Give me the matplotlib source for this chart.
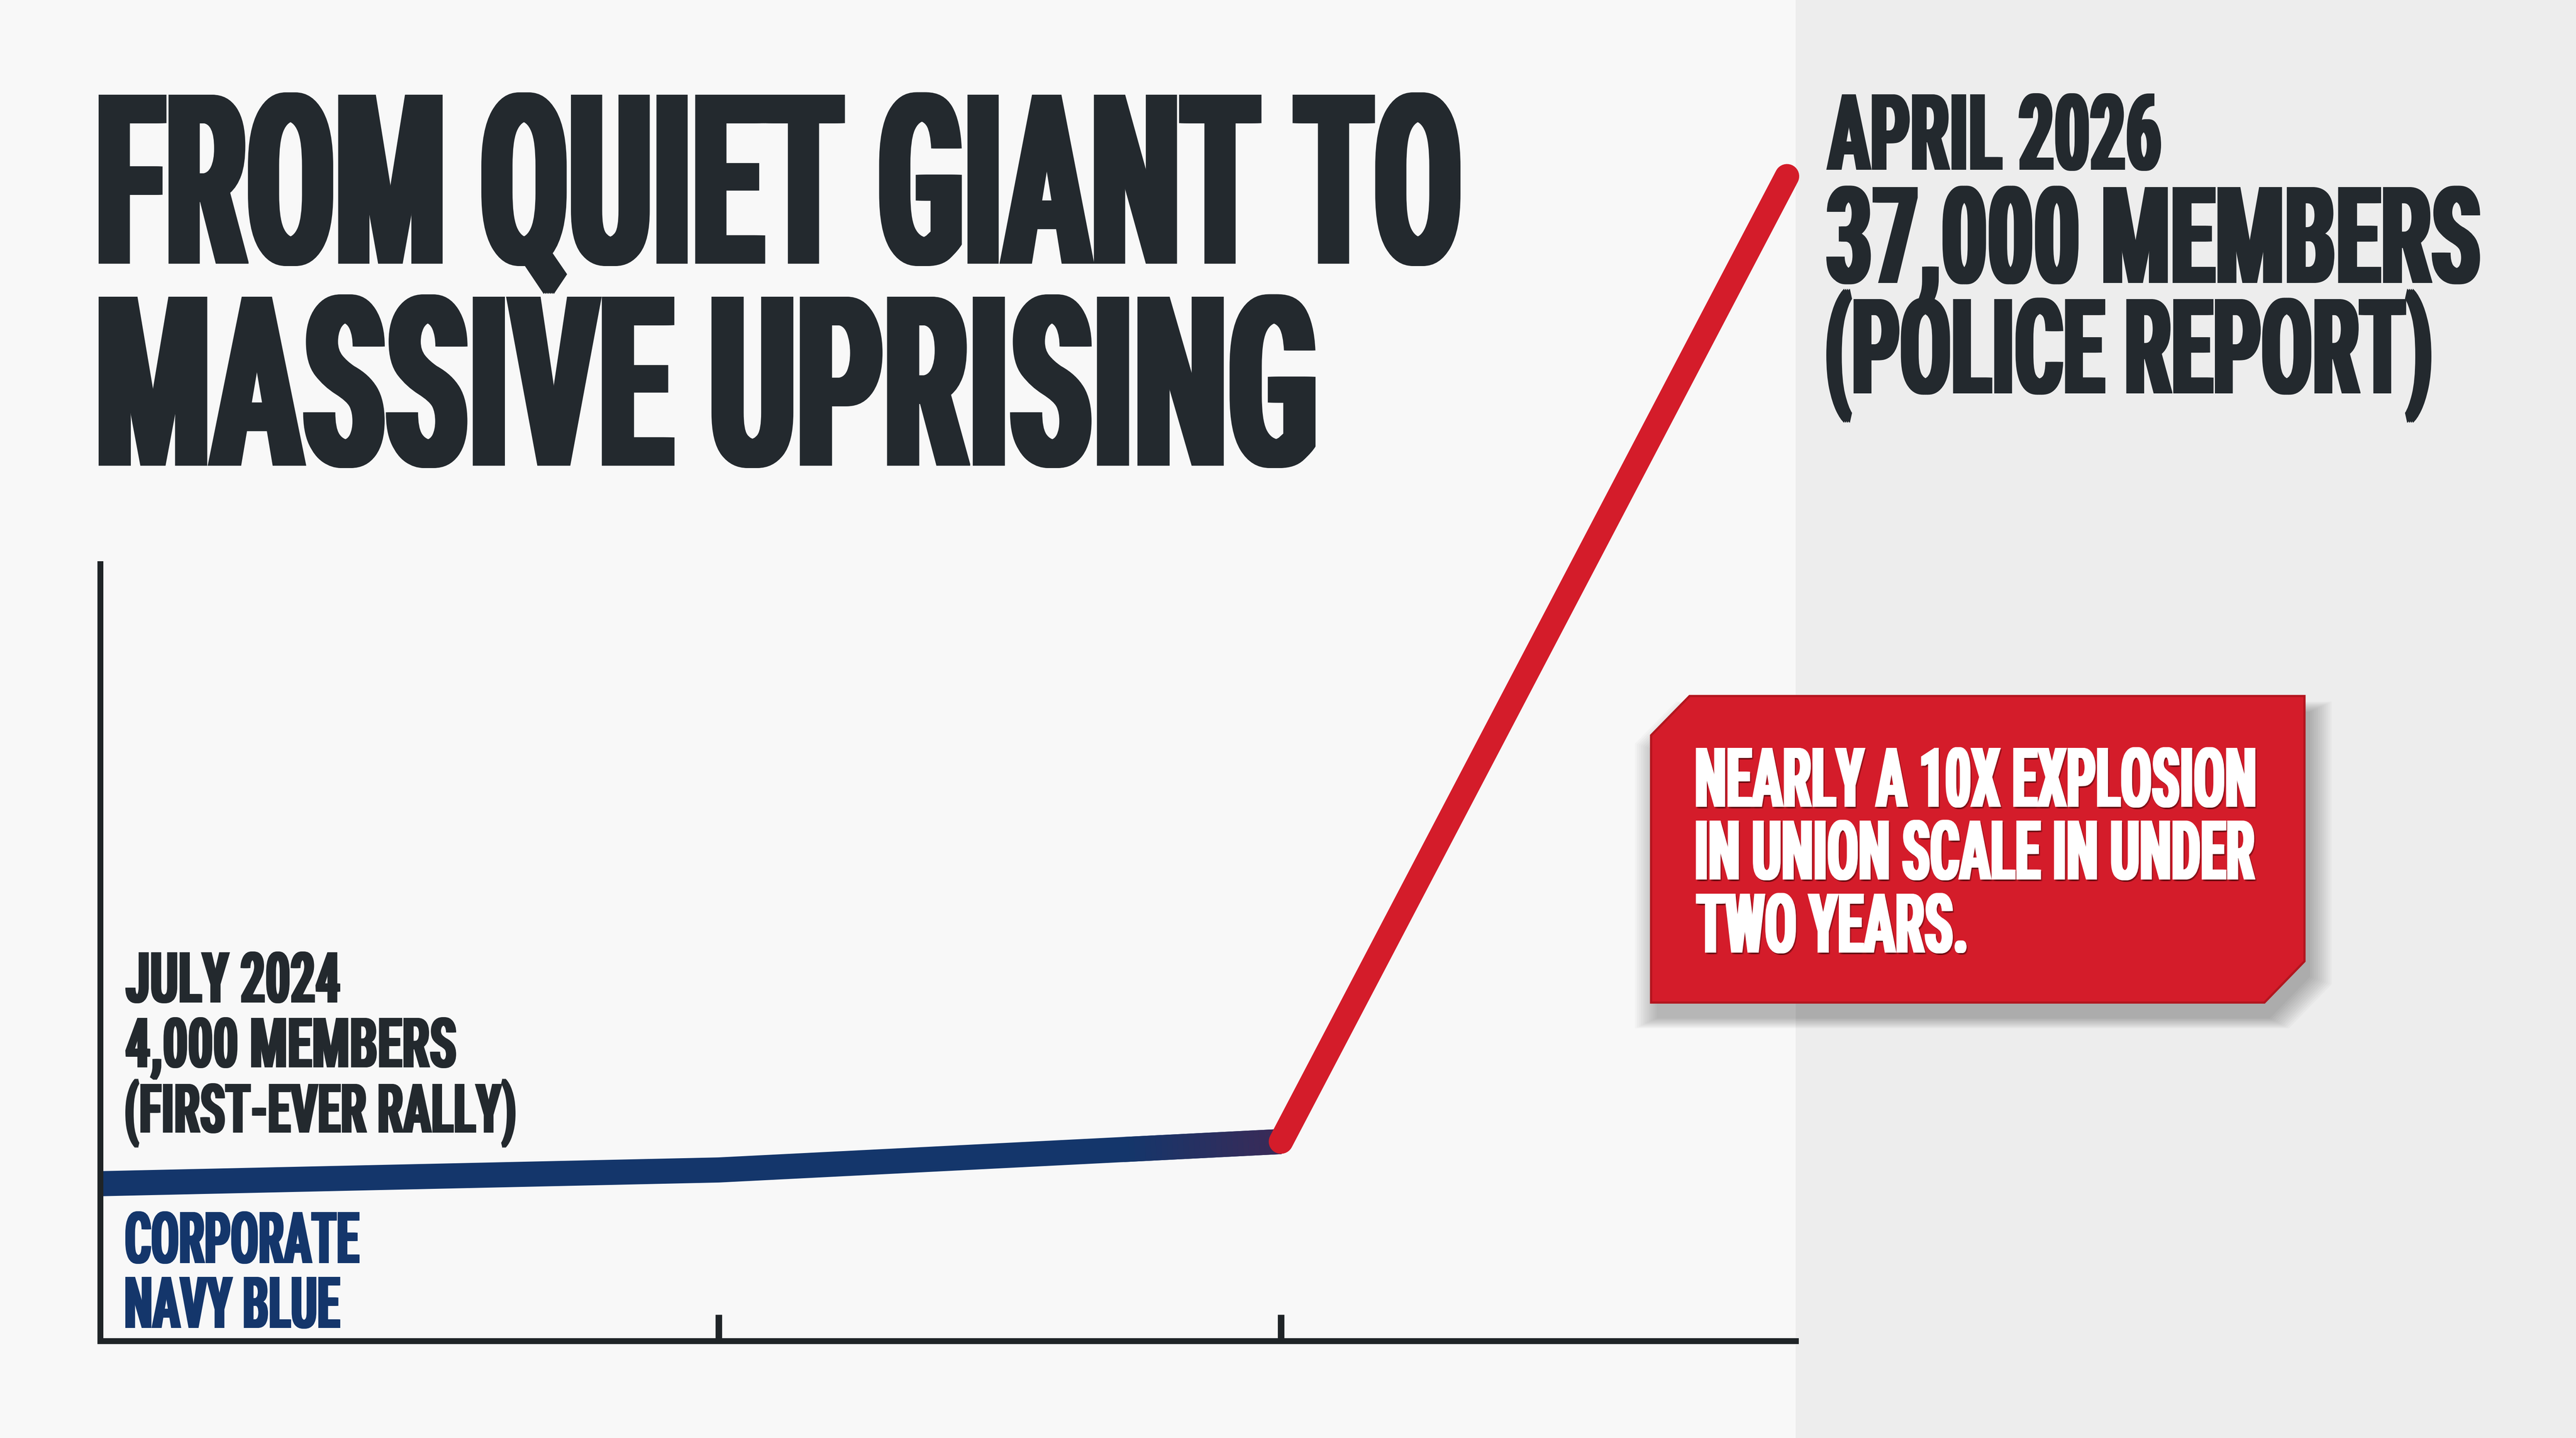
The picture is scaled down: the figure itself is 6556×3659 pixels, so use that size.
import numpy as np
import matplotlib
matplotlib.use("Agg")
import matplotlib.pyplot as plt
from matplotlib import font_manager as fm
from matplotlib.collections import LineCollection
from matplotlib.patches import Polygon, Rectangle
from matplotlib.patheffects import AbstractPathEffect
from matplotlib.transforms import Affine2D
from matplotlib.textpath import TextPath
from matplotlib.font_manager import FontProperties
from matplotlib.colors import to_rgb

# ---------------- data ----------------
months = [0.0, 7.7, 14.7, 21.0]          # months after July 2024
members = [4000, 4450, 5380, 37000]      # union members
tick_months = [7.7, 14.7]

title_lines = ["FROM QUIET GIANT TO", "MASSIVE UPRISING"]
start_lines = ["JULY 2024", "4,000 MEMBERS", "(FIRST-EVER RALLY)"]
legend_lines = ["CORPORATE", "NAVY BLUE"]
end_lines = ["APRIL 2026", "37,000 MEMBERS", "(POLICE REPORT)"]
callout_lines = ["NEARLY A 10X EXPLOSION", "IN UNION SCALE IN UNDER", "TWO YEARS."]

# ---------------- style ----------------
W, H, DPI = 6556, 3659, 400
BG = "#f8f8f8"
PANEL = "#ededed"
INK = "#23292e"
NAVY = "#14366b"
PURPLE = "#3b2a57"
RED = "#d41c2a"
AXC = "#1f2427"


def pick_font():
    candidates = [
        (dict(family="Roboto Condensed", weight="bold"), None),
        (dict(family="Liberation Sans Narrow", weight="bold"), None),
        (dict(family="DejaVu Sans", weight="bold", stretch="condensed"), "Condensed"),
        (dict(family="Roboto", weight="bold"), None),
    ]
    for kw, must in candidates:
        try:
            path = fm.findfont(FontProperties(**kw), fallback_to_default=False)
        except Exception:
            continue
        if must and must not in path:
            continue
        return FontProperties(**kw)
    return FontProperties(family="DejaVu Sans", weight="bold")


FP = pick_font()
CAPR = TextPath((0, 0), "H", size=100, prop=FP).get_extents().ymax / 100.0


class Tall(AbstractPathEffect):
    """Draw text glyphs stretched vertically (display-face look), slightly thickened."""

    def __init__(self, sy, smear=0.0, steps=6, shadow=None):
        super().__init__()
        self.sy, self.smear, self.steps, self.shadow = sy, smear, steps, shadow

    def _draw(self, renderer, gc, tpath, base, rgbFace, f):
        for k in range(self.steps + 1):
            dx = self.smear * f * k / self.steps
            renderer.draw_path(gc, tpath, base + Affine2D().translate(dx, 0), rgbFace)

    def draw_path(self, renderer, gc, tpath, affine, rgbFace=None):
        f = renderer.points_to_pixels(72.0) / DPI
        base = Affine2D().scale(1.0, self.sy) + affine
        if self.shadow is not None:
            dx, dy, col, alpha = self.shadow
            gc0 = renderer.new_gc()
            gc0.copy_properties(gc)
            gc0.set_alpha(alpha)
            gc0.set_linewidth(0)
            self._draw(renderer, gc0, tpath, base + Affine2D().translate(dx * f, dy * f),
                       to_rgb(col), f)
            gc0.restore()
        self._draw(renderer, gc, tpath, base, rgbFace, f)


fig = plt.figure(figsize=(W / DPI, H / DPI), dpi=DPI, facecolor=BG)

# overlay axes in pixel coordinates (y downwards)
ov = fig.add_axes([0, 0, 1, 1], zorder=0)
ov.set_xlim(0, W)
ov.set_ylim(H, 0)
ov.axis("off")
ov.add_patch(Rectangle((4570, 0), W - 4570, H, facecolor=PANEL, edgecolor="none", zorder=0))


def label(s, left, right, base, cap, color, smear_frac=0.06, shadow=None):
    ext = TextPath((0, 0), s, size=100, prop=FP).get_extents()
    smear = smear_frac * cap
    size_px = (right - left - smear) / (ext.width / 100.0)
    sy = cap / (CAPR * size_px)
    x0 = left - ext.x0 * size_px / 100.0
    t = ov.text(x0, base, s, fontproperties=FP, fontsize=size_px * 72.0 / DPI,
                color=color, ha="left", va="baseline", zorder=5)
    t.set_path_effects([Tall(sy, smear, steps=max(3, int(smear / 4)), shadow=shadow)])
    return t


# title
label(title_lines[0], 251, 3717, 671, 430, INK)
label(title_lines[1], 251, 3348, 1185, 430, INK)

# end annotation
label(end_lines[0], 4648, 5500, 432, 192, INK)
label(end_lines[1], 4648, 6312, 720, 244, INK)
label(end_lines[2], 4648, 6188, 1001, 240, INK)

# start annotation
label(start_lines[0], 319, 866, 2551, 128, INK)
label(start_lines[1], 319, 1161, 2716, 126, INK)
label(start_lines[2], 319, 1312, 2882, 124, INK)

# legend text
label(legend_lines[0], 319, 915, 3214, 130, NAVY)
label(legend_lines[1], 319, 866, 3379, 130, NAVY)

# callout box with soft shadow
box = np.array([(4202, 1871), (4300, 1771), (5865, 1771), (5865, 2446),
                (5763, 2551), (4202, 2551)], dtype=float)
cen = box.mean(axis=0)
for i in range(12):
    grow = 1.0 + 0.006 * i
    pts = (box - cen) * grow + cen + np.array([14, 40])
    ov.add_patch(Polygon(pts, closed=True, facecolor="black", edgecolor="none",
                         alpha=0.022, zorder=2))
ov.add_patch(Polygon(box, closed=True, facecolor=RED, edgecolor="#b3151e",
                     linewidth=1.0, zorder=3))
for txt, right, base in zip(callout_lines, [5740, 5740, 5005], [2053, 2238, 2424]):
    label(txt, 4316, right, base, 150, "white", shadow=(3, -4, "#5a080d", 0.45))

# ---------------- chart ----------------
x_left, x_right, y_top, y_bot = 255, 4570, 1435, 3412
ax = fig.add_axes([x_left / W, (H - y_bot) / H, (x_right - x_left) / W, (y_bot - y_top) / H],
                  zorder=1)
ax.patch.set_alpha(0)
ax.set_xlim(0, 21.108)
ax.set_ylim(-1150, 24300)

ax.plot(months[:3], members[:3], color=NAVY, lw=11.5, solid_capstyle="butt",
        solid_joinstyle="round", zorder=2, clip_on=False)
# colour fade on the last part of the navy segment
t = np.linspace(0.72, 1.0, 30)
xs = months[1] + t * (months[2] - months[1])
ys = members[1] + t * (members[2] - members[1])
segs = np.stack([np.column_stack([xs[:-1], ys[:-1]]), np.column_stack([xs[1:], ys[1:]])], axis=1)
c0, c1 = np.array(to_rgb(NAVY)), np.array(to_rgb(PURPLE))
w = np.linspace(0, 1, len(segs))[:, None]
ax.add_collection(LineCollection(segs, colors=c0 * (1 - w) + c1 * w, linewidths=11.5,
                                 capstyle="butt", zorder=2.1, clip_on=False))
ax.plot(months[2:], members[2:], color=RED, lw=11.2, solid_capstyle="round",
        zorder=3, clip_on=False)

for side in ["top", "right"]:
    ax.spines[side].set_visible(False)
for side in ["left", "bottom"]:
    ax.spines[side].set_linewidth(2.7)
    ax.spines[side].set_color(AXC)
    ax.spines[side].set_capstyle("projecting")
ax.set_xticks(tick_months)
ax.set_yticks([])
ax.tick_params(axis="x", direction="in", length=12, width=3, color=AXC,
               labelbottom=False)

fig.savefig("out.png", dpi=DPI, facecolor=BG)
